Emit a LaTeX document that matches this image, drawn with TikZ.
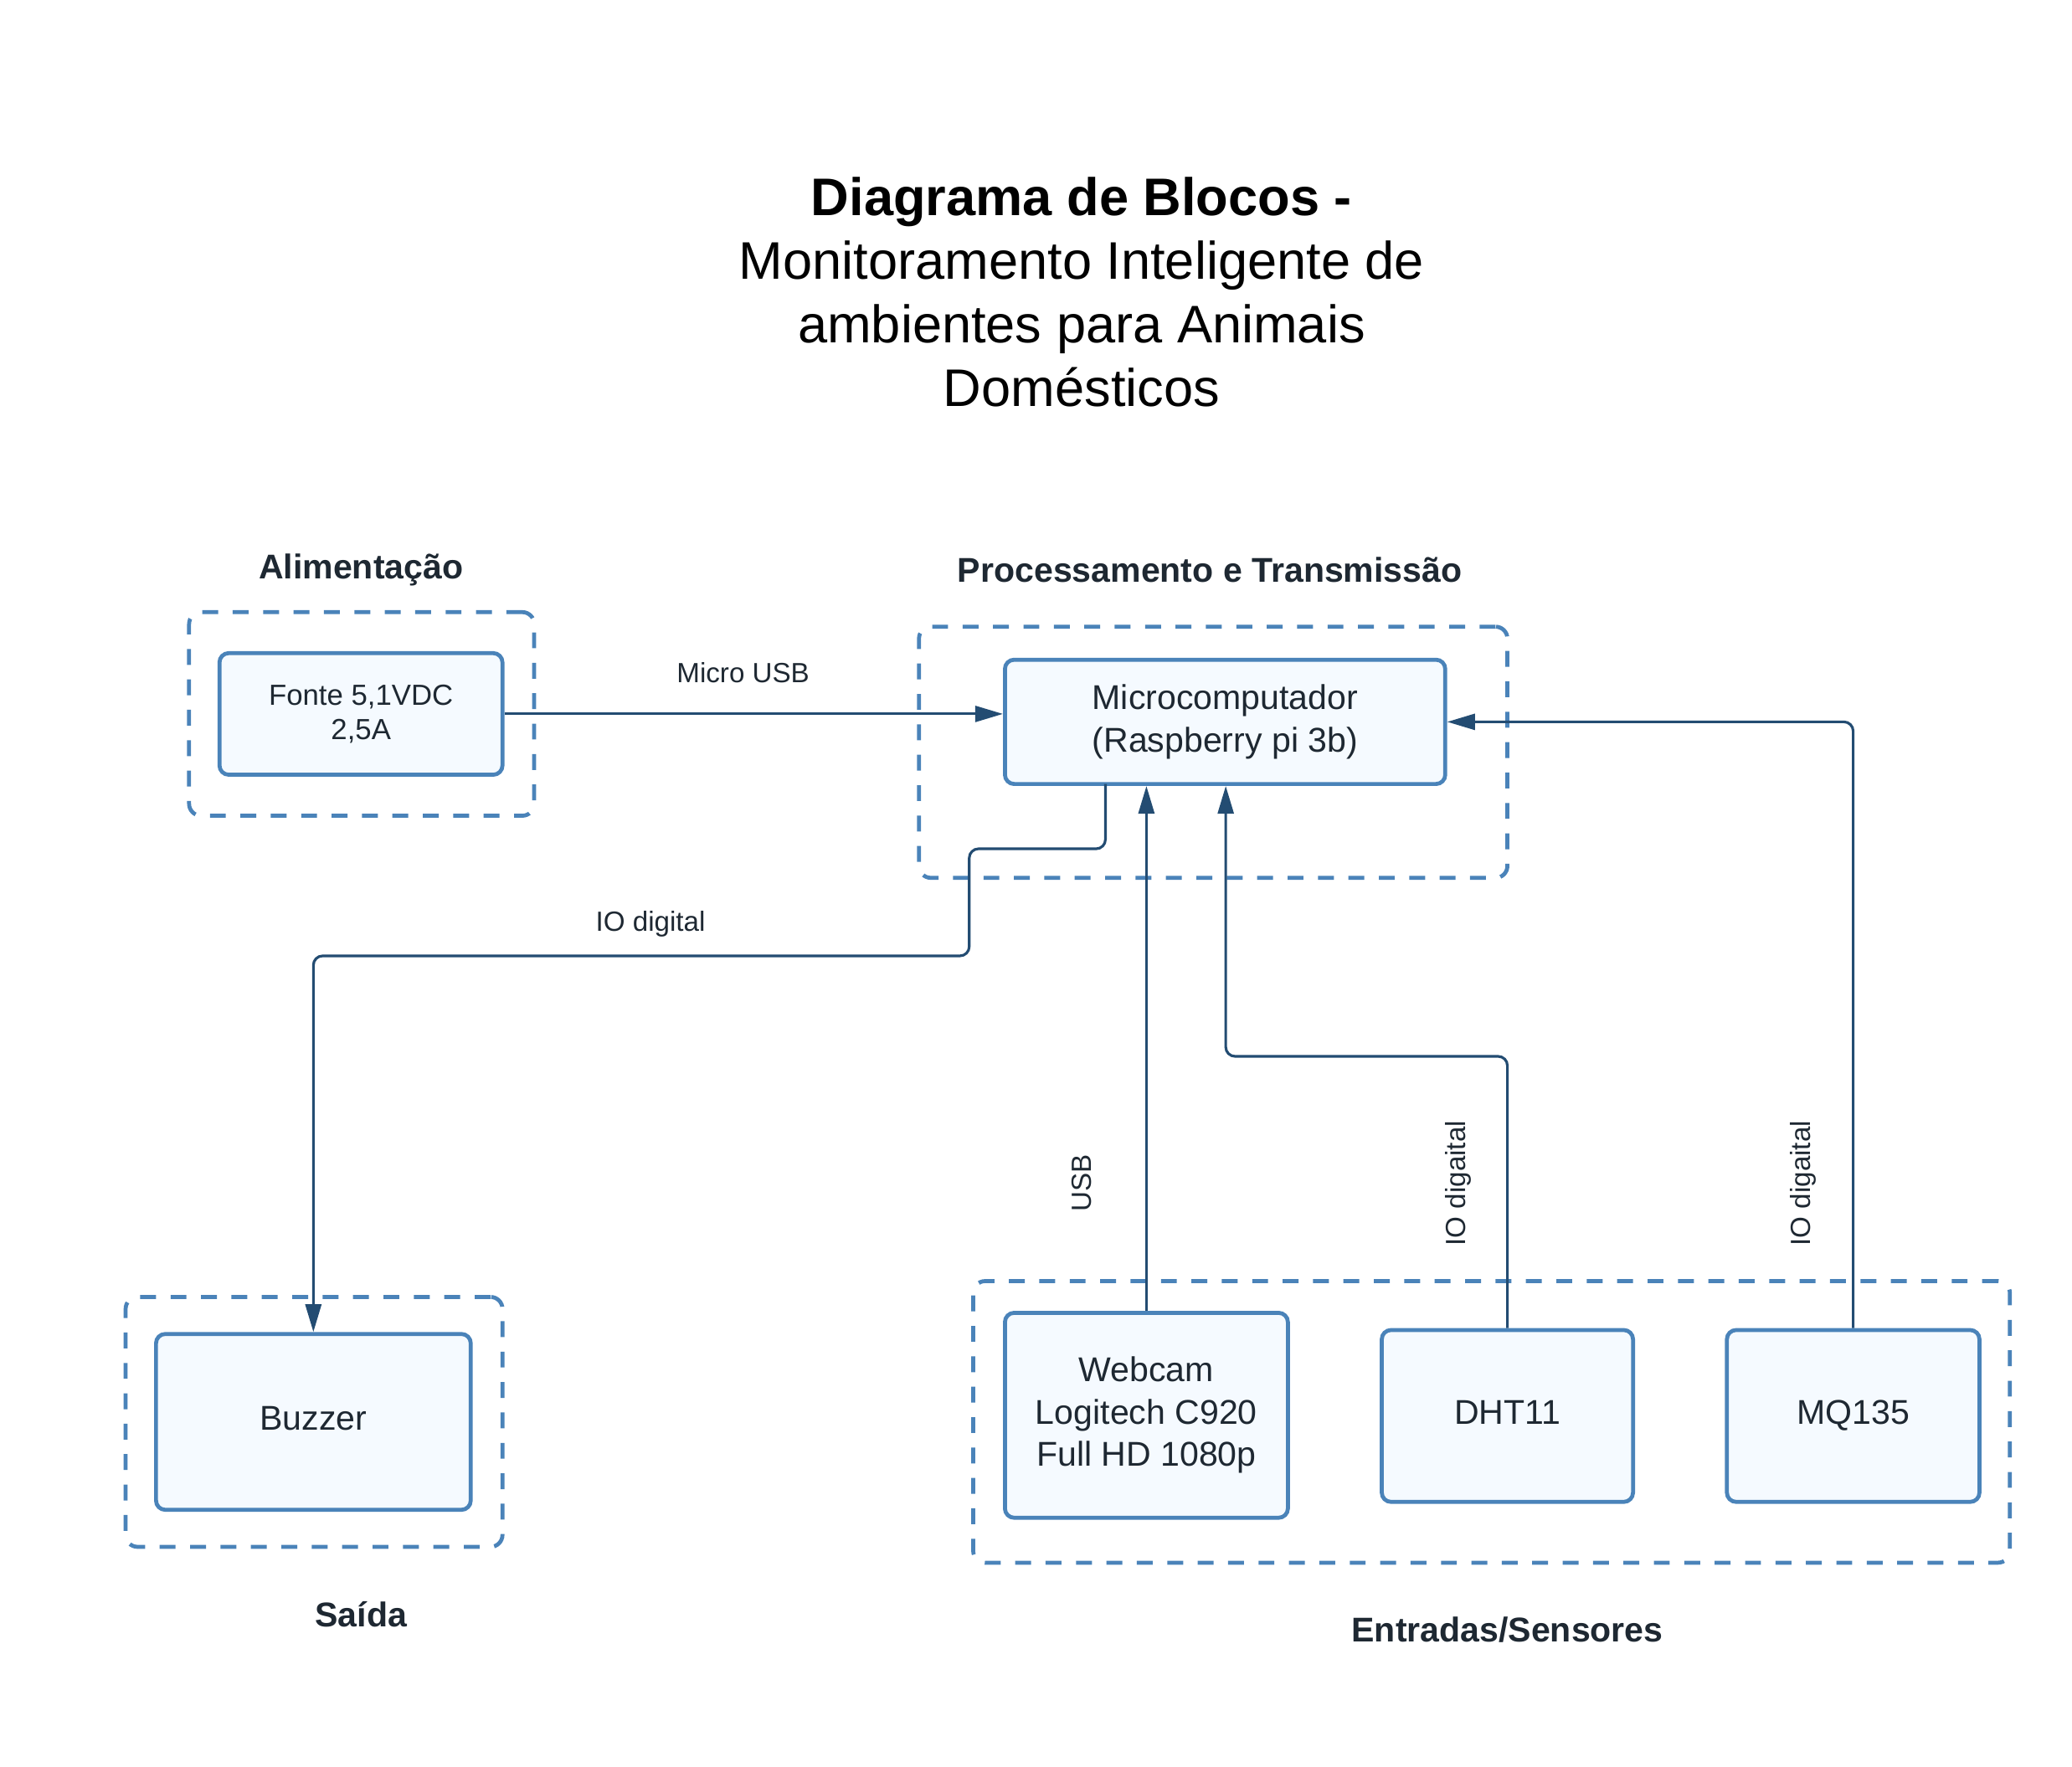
\documentclass[tikz,border=0pt]{standalone}
\usepackage{fontspec}
\setmainfont{Liberation Sans}
\usetikzlibrary{arrows.meta}
\definecolor{boxline}{HTML}{4A83B9}
\definecolor{boxfill}{HTML}{F5FAFF}
\definecolor{conn}{HTML}{234C72}
\definecolor{txt}{HTML}{1E2832}
\tikzset{
  blk/.style={draw=boxline, fill=boxfill, line width=3pt, rounded corners=7pt, text=txt,
    align=center, inner sep=0pt, font=\fontsize{26}{32}\selectfont},
  oneline/.style={text height=12.6pt, text depth=0pt},
  grp/.style={draw=boxline, line width=3pt, rounded corners=9pt, dash pattern=on 12pt off 11pt, inner sep=0pt},
  arr/.style={draw=conn, line width=2pt, rounded corners=7pt, -{Triangle[length=21pt,width=12pt]}},
  lbl/.style={text=txt, font=\fontsize{21}{25}\selectfont, inner sep=0pt},
  sec/.style={text=txt, font=\bfseries\fontsize{26}{31}\selectfont, inner sep=0pt}
}
\begin{document}
\begin{tikzpicture}[x=1pt,y=-1pt]
\useasboundingbox (0,0) rectangle (1567,1336.5);
% title
\node[align=center, font=\fontsize{40}{48}\selectfont, inner sep=0pt] (title) at (818,221)
  {\textbf{Diagrama de Blocos -}\\Monitoramento Inteligente de\\ambientes para Animais\\Domésticos};
% section labels
\node[sec] (sAlim) at (273,431) {Alimentação};
\node[sec] (sProc) at (915,431) {Processamento e Transmissão};
\node[sec] (sSaida) at (273,1221) {Saída};
\node[sec] (sEnt) at (1140,1233) {Entradas/Sensores};
% groups
\node[grp, minimum width=261pt, minimum height=154pt] (gAlim) at (273.5,540) {};
\node[grp, minimum width=445pt, minimum height=190pt] (gProc) at (917.5,569) {};
\node[grp, minimum width=285pt, minimum height=189pt] (gSaida) at (237.5,1075.5) {};
\node[grp, minimum width=784pt, minimum height=213pt] (gEnt) at (1128,1075.5) {};
% blocks
\node[blk, font=\fontsize{22}{26}\selectfont, minimum width=214pt, minimum height=92pt] (fonte) at (273,540) {Fonte 5,1VDC\\2,5A};
\node[blk, minimum width=333pt, minimum height=94pt] (micro) at (926.5,546) {Microcomputador\\(Raspberry pi 3b)};
\node[blk, oneline, minimum width=238pt, minimum height=133pt] (buzzer) at (237,1075.5) {Buzzer};
\node[blk, minimum width=214pt, minimum height=155pt] (webcam) at (867,1070.5) {Webcam\\Logitech C920\\Full HD 1080p};
\node[blk, oneline, minimum width=190pt, minimum height=130pt] (dht) at (1140,1071) {DHT11};
\node[blk, oneline, minimum width=191pt, minimum height=130pt] (mq) at (1401.5,1071) {MQ135};
% helper coordinates
\coordinate (iosrc) at (836,593);
\coordinate (b1) at (733,642);
\coordinate (b2) at (733,723);
\coordinate (d1) at (927,799);
% connectors
\draw[arr] (fonte.east) -- (micro.west |- fonte.east);
\draw[arr] (iosrc) |- (b1) -- (b2) -| (buzzer.north);
\draw[arr] (webcam.north) -- (webcam.north |- micro.south);
\draw[arr] (dht.north) |- (d1) -- (d1 |- micro.south);
\draw[arr] (mq.north) |- (micro.east);
% connector labels
\node[lbl] (lMicroUSB) at (562,509) {Micro USB};
\node[lbl] (lIO) at (492,699) {IO digital};
\node[lbl, rotate=90] (lUSB) at (818,895) {USB};
\node[lbl, rotate=90] (lIO2) at (1103,895) {IO digaital};
\node[lbl, rotate=90] (lIO3) at (1364,895) {IO digaital};
\end{tikzpicture}
\end{document}
